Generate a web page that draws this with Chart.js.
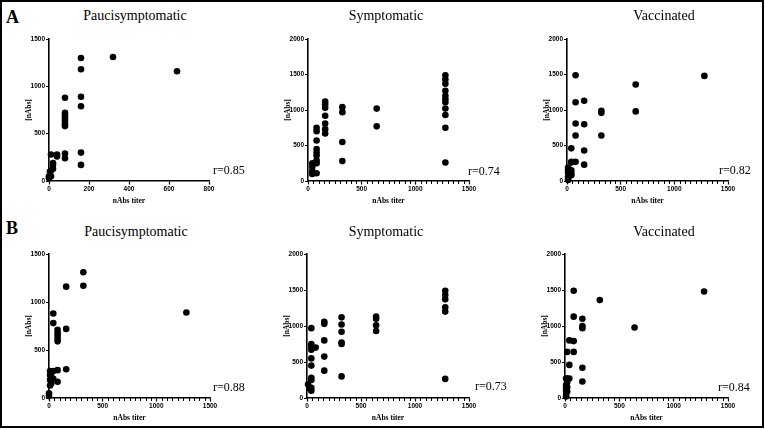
<!DOCTYPE html>
<html lang="en">
<head>
<meta charset="UTF-8" />
<title>nAbs titer vs [nAbs]</title>
<script src="https://cdn.jsdelivr.net/npm/chart.js"></script>
<style>
  body { margin: 0; background: #fff; }
  #fig { position: relative; width: 765px; height: 430px; overflow: hidden; background: #fff; }
  #frame { position: absolute; left: 0; top: 0; width: 760px; height: 424px; border: 2px solid #000; }
  canvas { position: absolute; }
  .lbl { position: absolute; font-family: 'Liberation Serif', serif; color: #000; white-space: nowrap; line-height: 1; }
  .letter { font-size: 18px; font-weight: bold; transform: translate(-50%, -50%); }
  .title { font-size: 14px; transform: translate(-50%, -50%); }
  .rlab { font-size: 12px; transform: translate(0, -50%); }
</style>
</head>
<body>
<div id="fig"><div id="frame"></div></div>

<script>
  // titer / concentration pairs
  const titerA1 = [0, 0, 5, 10, 10, 10, 20, 20, 20, 40, 40, 80, 80, 80, 80, 80, 80, 80, 80, 80, 80, 160, 160, 160, 160, 160, 160, 320, 640];
  const nabsA1  = [30, 50, 100, 280, 110, 50, 190, 170, 130, 280, 260, 880, 720, 700, 675, 650, 625, 600, 580, 290, 240, 1300, 1180, 890, 790, 300, 170, 1310, 1160];

  const titerA2 = [40, 40, 40, 40, 80, 80, 80, 80, 80, 80, 80, 80, 80, 160, 160, 160, 160, 160, 160, 160, 320, 320, 320, 320, 640, 640, 1280, 1280, 1280, 1280, 1280, 1280, 1280, 1280, 1280, 1280, 1280];
  const nabsA2  = [250, 200, 140, 100, 750, 700, 570, 450, 400, 360, 290, 250, 110, 1120, 1080, 1030, 920, 810, 730, 670, 1040, 970, 550, 280, 1020, 770, 1490, 1430, 1370, 1270, 1200, 1150, 1110, 1020, 930, 750, 260];

  const titerA3 = [10, 10, 10, 10, 10, 10, 20, 20, 20, 40, 40, 40, 40, 40, 40, 80, 80, 80, 80, 80, 160, 160, 160, 160, 320, 320, 320, 640, 640, 1280];
  const nabsA3  = [190, 160, 120, 60, 30, 15, 140, 100, 70, 460, 270, 260, 150, 110, 80, 1490, 1110, 810, 640, 270, 1130, 800, 430, 230, 990, 960, 640, 1360, 980, 1480];

  const titerB1 = [0, 0, 10, 10, 10, 10, 20, 20, 20, 20, 40, 40, 40, 40, 80, 80, 80, 80, 80, 80, 80, 160, 160, 160, 320, 320, 1280];
  const nabsB1  = [50, 20, 280, 240, 190, 130, 260, 220, 170, 150, 880, 780, 280, 200, 710, 680, 650, 620, 590, 290, 170, 1160, 720, 300, 1310, 1170, 890];

  const titerB2 = [10, 20, 40, 40, 40, 40, 40, 40, 40, 40, 40, 40, 80, 160, 160, 160, 160, 160, 320, 320, 320, 320, 320, 320, 640, 640, 640, 640, 1280, 1280, 1280, 1280, 1280, 1280];
  const nabsB2  = [190, 140, 970, 750, 710, 670, 550, 450, 280, 250, 140, 100, 700, 1060, 1030, 800, 575, 380, 1120, 1020, 920, 770, 750, 300, 1130, 1100, 1010, 930, 1490, 1430, 1370, 1260, 1200, 265];

  const titerB3 = [10, 10, 10, 10, 10, 10, 20, 20, 20, 20, 20, 40, 40, 40, 80, 80, 80, 80, 160, 160, 160, 160, 160, 320, 640, 1280];
  const nabsB3  = [270, 180, 130, 90, 40, 20, 640, 270, 220, 150, 90, 800, 460, 270, 1490, 1130, 790, 640, 1100, 1000, 970, 420, 230, 1360, 980, 1480];

  const groupNames = ['Paucisymptomatic', 'Symptomatic', 'Vaccinated'];
  const rValues = ['0.85', '0.74', '0.82', '0.88', '0.73', '0.84'];
  const xTicks800 = [0, 200, 400, 600, 800];
  const xTicks1500 = [0, 500, 1000, 1500];
  const yTicks1500 = [0, 500, 1000, 1500];
  const yTicks2000 = [0, 500, 1000, 1500, 2000];

  // panel placement (pixels) – layout only
  const panels = [
    { xs: titerA1, ys: nabsA1, xt: xTicks800,  yt: yTicks1500, minor: 0,  ax: 49,  top: 39,  w: 160, h: 142, tx: 135, ty: 16,  rx: 213, ry: 170 },
    { xs: titerA2, ys: nabsA2, xt: xTicks1500, yt: yTicks2000, minor: 50, ax: 308, top: 39,  w: 161, h: 142, tx: 386, ty: 16,  rx: 468, ry: 171 },
    { xs: titerA3, ys: nabsA3, xt: xTicks1500, yt: yTicks2000, minor: 50, ax: 567, top: 39,  w: 161, h: 142, tx: 664, ty: 16,  rx: 719, ry: 170 },
    { xs: titerB1, ys: nabsB1, xt: xTicks1500, yt: yTicks1500, minor: 50, ax: 49,  top: 254, w: 161, h: 144, tx: 136, ty: 232, rx: 213, ry: 387 },
    { xs: titerB2, ys: nabsB2, xt: xTicks1500, yt: yTicks2000, minor: 50, ax: 307, top: 254, w: 162, h: 144, tx: 386, ty: 232, rx: 475, ry: 386 },
    { xs: titerB3, ys: nabsB3, xt: xTicks1500, yt: yTicks2000, minor: 50, ax: 565, top: 254, w: 163, h: 144, tx: 664, ty: 232, rx: 718, ry: 387 }
  ];

  const fig = document.getElementById('fig');

  function addLabel(cls, text, x, y) {
    const d = document.createElement('div');
    d.className = 'lbl ' + cls;
    d.textContent = text;
    d.style.left = x + 'px';
    d.style.top = y + 'px';
    fig.appendChild(d);
  }

  // small ticks every 50 along the wide x axes
  const minorTicks = {
    id: 'minorTicks',
    afterDraw(chart) {
      const step = chart.config.options.minorStep;
      if (!step) return;
      const s = chart.scales.x, ctx = chart.ctx, y0 = chart.chartArea.bottom;
      ctx.save();
      ctx.strokeStyle = '#000';
      ctx.lineWidth = 1;
      for (let v = step; v < s.max; v += step) {
        if (v % 500 === 0) continue;
        const px = Math.round(s.getPixelForValue(v)) + 0.5;
        ctx.beginPath();
        ctx.moveTo(px, y0);
        ctx.lineTo(px, y0 + 3);
        ctx.stroke();
      }
      ctx.restore();
    }
  };

  const tickFont = { family: 'Liberation Sans', size: 6.5, weight: 'bold' };
  const axisFont = { family: 'Liberation Serif', size: 7.5, weight: 'bold' };

  panels.forEach((p, i) => {
    const cv = document.createElement('canvas');
    const cw = 40 + p.w + 14, ch = 6 + p.h + 29;
    cv.width = cw; cv.height = ch;
    cv.style.left = (p.ax - 40) + 'px';
    cv.style.top = (p.top - 6) + 'px';
    fig.appendChild(cv);

    new Chart(cv, {
      type: 'scatter',
      data: {
        datasets: [{
          data: p.xs.map((x, k) => ({ x: x, y: p.ys[k] })),
          backgroundColor: '#000',
          borderWidth: 0,
          pointRadius: 3.3,
          clip: false
        }]
      },
      options: {
        responsive: false,
        animation: false,
        minorStep: p.minor,
        layout: { padding: { top: 6, right: 14, left: 0, bottom: 0 } },
        plugins: { legend: { display: false }, tooltip: { enabled: false } },
        scales: {
          x: {
            type: 'linear', min: 0, max: p.xt[p.xt.length - 1],
            afterBuildTicks: s => { s.ticks = p.xt.map(v => ({ value: v })); },
            afterFit: s => { s.height = 29; },
            grid: { drawOnChartArea: false, tickLength: 3.5, tickColor: '#000', tickWidth: 1.2 },
            border: { color: '#000', width: 1.6 },
            ticks: { color: '#000', font: tickFont, padding: 1, maxRotation: 0, autoSkip: false, callback: v => String(v) },
            title: { display: true, text: 'nAbs titer', color: '#000', font: axisFont, padding: { top: 0, bottom: 4 } }
          },
          y: {
            type: 'linear', min: 0, max: p.yt[p.yt.length - 1],
            afterBuildTicks: s => { s.ticks = p.yt.map(v => ({ value: v })); },
            afterFit: s => { s.width = 40; },
            grid: { drawOnChartArea: false, tickLength: 3, tickColor: '#000', tickWidth: 1.2 },
            border: { color: '#000', width: 1.6 },
            ticks: { color: '#000', font: tickFont, padding: 1, autoSkip: false, callback: v => String(v) },
            title: { display: true, text: '[nAbs]', color: '#000', font: axisFont, padding: { top: 16, bottom: 0 } }
          }
        }
      },
      plugins: [minorTicks]
    });

    addLabel('title', groupNames[i % 3], p.tx, p.ty);
    addLabel('rlab', 'r=' + rValues[i], p.rx, p.ry);
  });

  addLabel('letter', 'A', 12.5, 16.5);
  addLabel('letter', 'B', 12, 227.5);
</script>
</body>
</html>
